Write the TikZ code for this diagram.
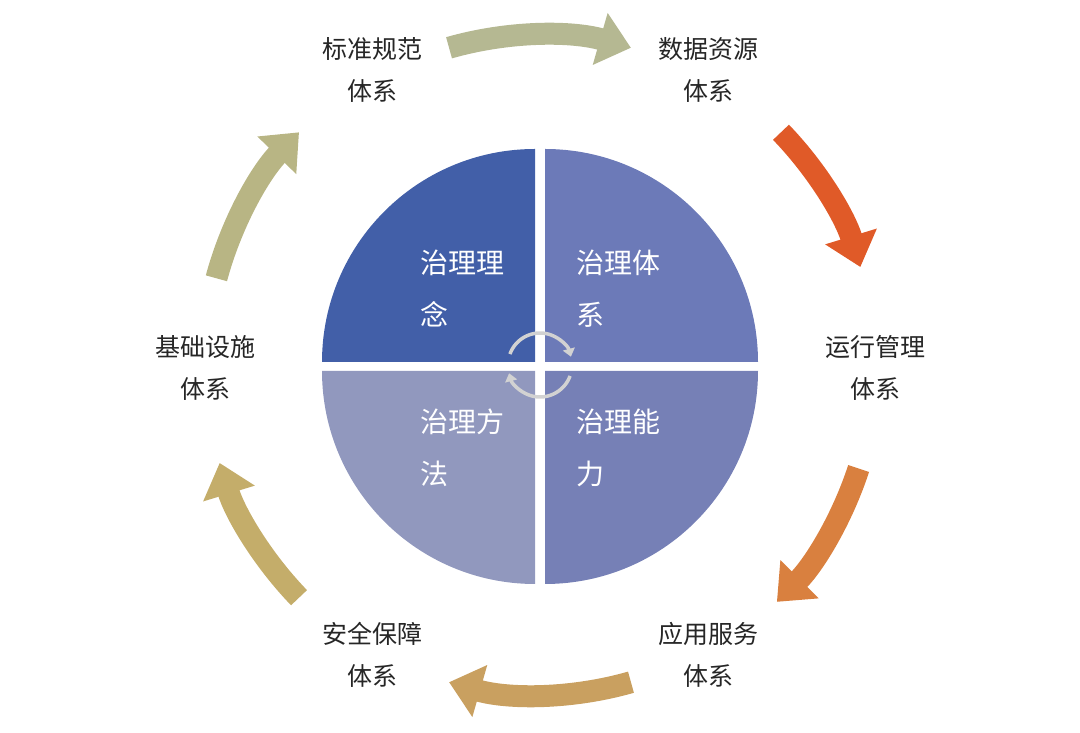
\documentclass[tikz,border=0pt]{standalone}
\usepackage{fontspec}
\setmainfont{Noto Sans CJK SC}
\usetikzlibrary{arrows.meta}
\begin{document}
\begin{tikzpicture}[x=1pt,y=1pt,
 lbl/.style={align=center,font=\fontsize{25}{42}\selectfont,text=black!85},
 qt/.style={align=left,font=\fontsize{28}{52}\selectfont,text=white},
 big/.style={line width=22, -{Triangle[length=32,width=52]}},
 ca/.style={line width=3.5,draw=gray!35,-{Triangle[length=8,width=12]}}]
\useasboundingbox (0,0) rectangle (1080,733);
\coordinate (c) at (540,368);
% quadrants
\fill[fill={rgb,255:red,66;green,95;blue,168}] ([shift={(-5,3)}]c) -- ++(-213,0) arc(180:90:213) -- cycle;
\fill[fill={rgb,255:red,108;green,122;blue,184}] ([shift={(5,3)}]c) -- ++(0,213) arc(90:0:213) -- cycle;
\fill[fill={rgb,255:red,145;green,152;blue,190}] ([shift={(-5,-6)}]c) -- ++(0,-213) arc(270:180:213) -- cycle;
\fill[fill={rgb,255:red,118;green,128;blue,182}] ([shift={(5,-6)}]c) -- ++(213,0) arc(0:-90:213) -- cycle;
\node[qt] (q1) at (462,444) {治理理\\念};
\node[qt] (q2) at (618,444) {治理体\\系};
\node[qt] (q3) at (462,285) {治理方\\法};
\node[qt] (q4) at (618,285) {治理能\\力};
% center arrows
\draw[ca] ([shift={(160:32)}]c) arc(160:15:32);
\draw[ca] ([shift={(-20:32)}]c) arc(-20:-165:32);
% outer labels
\node[lbl] (a) at (372,663) {标准规范\\体系};
\node[lbl] (b) at (708,663) {数据资源\\体系};
\node[lbl] (d) at (875,365) {运行管理\\体系};
\node[lbl] (e) at (708,78) {应用服务\\体系};
\node[lbl] (f) at (372,78) {安全保障\\体系};
\node[lbl] (g) at (205,365) {基础设施\\体系};
% big arrows
\draw[big,draw={rgb,255:red,181;green,184;blue,146}] ([shift={(106:330)}]c) arc(106:74:330);
\draw[big,draw={rgb,255:red,224;green,90;blue,40}] ([shift={(44:335)}]c) arc(44:17:335);
\draw[big,draw={rgb,255:red,217;green,128;blue,63}] ([shift={(-18:335)}]c) arc(-18:-45:335);
\draw[big,draw={rgb,255:red,201;green,160;blue,96}] ([shift={(-74:330)}]c) arc(-74:-106:330);
\draw[big,draw={rgb,255:red,196;green,173;blue,106}] ([shift={(-136:335)}]c) arc(-136:-163:335);
\draw[big,draw={rgb,255:red,184;green,181;blue,132}] ([shift={(165:335)}]c) arc(165:136:335);
\end{tikzpicture}
\end{document}
